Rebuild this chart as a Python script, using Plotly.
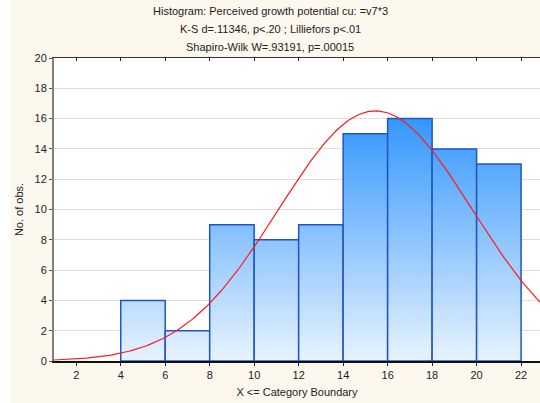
import numpy as np
import plotly.graph_objects as go

# Data
bin_edges = [4, 6, 8, 10, 12, 14, 16, 18, 20, 22]
counts = [4, 2, 9, 8, 9, 15, 16, 14, 13]
fit_mean = 15.45
fit_sd = 4.35
x_ticks = [2, 4, 6, 8, 10, 12, 14, 16, 18, 20, 22]
y_ticks = [0, 2, 4, 6, 8, 10, 12, 14, 16, 18, 20]
title_lines = [
    "Histogram: Perceived growth potential cu: =v7*3",
    "K-S d=.11346, p<.20 ; Lilliefors p<.01",
    "Shapiro-Wilk W=.93191, p=.00015",
]

W, H = 540, 403
L, R, T, B = 54, 0, 58, 42
pw, ph = W - L - R, H - T - B
xr = [1, 22.85]
yr = [0, 20]

fig = go.Figure()

edge_col = "#1f55c8"
for i, c in enumerate(counts):
    x0, x1 = bin_edges[i], bin_edges[i + 1]
    fig.add_trace(go.Scatter(
        x=[x0, x0, x1, x1, x0], y=[0, c, c, 0, 0],
        mode="lines", fill="toself",
        line=dict(color=edge_col, width=1.5),
        fillgradient=dict(type="vertical", start=0, stop=16,
                          colorscale=[[0, "#e8f3ff"], [1, "#3497fd"]]),
        hoverinfo="skip", showlegend=False,
    ))

n = sum(counts)
bw = bin_edges[1] - bin_edges[0]
xs = np.linspace(xr[0], xr[1], 300)
ys = n * bw / (fit_sd * np.sqrt(2 * np.pi)) * np.exp(-0.5 * ((xs - fit_mean) / fit_sd) ** 2)
fig.add_trace(go.Scatter(x=xs, y=ys, mode="lines", line=dict(color="#ff1a1a", width=1.2),
                         hoverinfo="skip", showlegend=False))

# top axis overlay for inward ticks
fig.add_trace(go.Scatter(x=[xr[0]], y=[0], xaxis="x2", mode="markers",
                         marker=dict(opacity=0), showlegend=False, hoverinfo="skip"))

font = dict(family="Liberation Sans, Arial, sans-serif", size=11, color="#222222")

shapes = [
    dict(type="rect", xref="paper", yref="paper", x0=-L / pw - 0.01, x1=(11 - L) / pw,
         y0=-B / ph - 0.01, y1=1 + T / ph + 0.01, fillcolor="white", line=dict(width=0), layer="below"),
]

annotations = []
for k, t in enumerate(title_lines):
    ypix = 11 + 18 * k
    annotations.append(dict(text=t, xref="paper", yref="paper",
                            x=(270 - L) / pw, y=(H - B - ypix) / ph,
                            xanchor="center", yanchor="middle", showarrow=False, font=font))

fig.update_layout(
    width=W, height=H,
    margin=dict(l=L, r=R, t=T, b=B, pad=0),
    paper_bgcolor="#fdf8ee", plot_bgcolor="white",
    font=font, shapes=shapes, annotations=annotations,
    xaxis=dict(range=xr, tickvals=x_ticks, ticks="outside", ticklen=3, tickcolor="#222",
               showgrid=False, zeroline=False, showline=True, linecolor="#111", linewidth=1.5,
               title=dict(text="X <= Category Boundary", font=font, standoff=8), tickfont=font),
    xaxis2=dict(range=xr, overlaying="x", side="top", tickvals=x_ticks, ticks="inside",
                ticklen=3, tickcolor="#222", showticklabels=False, showgrid=False,
                zeroline=False, showline=True, linecolor="#333", linewidth=1),
    yaxis=dict(range=yr, tickvals=y_ticks, ticks="outside", ticklen=3, tickcolor="#555",
               showgrid=True, gridcolor="#dedede", gridwidth=1, zeroline=False,
               showline=True, linecolor="#808080", linewidth=2,
               title=dict(text="No. of obs.", font=font, standoff=9), tickfont=font),
)

fig.write_html("out.html")
